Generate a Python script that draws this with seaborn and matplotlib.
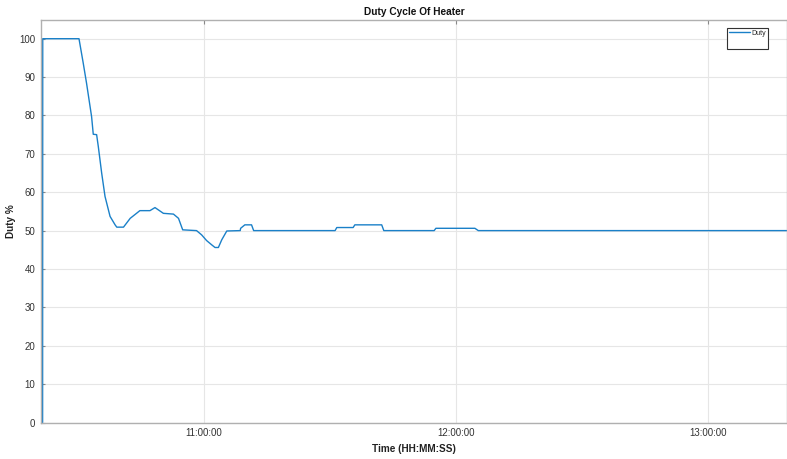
import matplotlib
matplotlib.use("Agg")
import matplotlib.pyplot as plt
import matplotlib.dates as mdates
from matplotlib.lines import Line2D
import seaborn as sns
import pandas as pd

times = ["10:21:32", "10:21:34", "10:30:12", "10:31:12", "10:32:00", "10:33:12", "10:33:36",
         "10:34:24", "10:34:48", "10:35:36", "10:36:24", "10:37:36", "10:38:48", "10:39:12",
         "10:40:48", "10:42:24", "10:43:54", "10:44:42", "10:47:06", "10:48:18", "10:49:06",
         "10:50:18", "10:52:42", "10:53:54", "10:54:54", "10:58:12", "10:59:24", "11:00:36",
         "11:01:48", "11:02:36", "11:03:24", "11:04:12", "11:05:24", "11:08:36", "11:08:42",
         "11:09:42", "11:11:18", "11:11:48", "11:31:12", "11:31:36", "11:35:30", "11:35:54",
         "11:42:18", "11:42:48", "11:54:48", "11:55:12", "12:04:30", "12:05:18", "13:18:48"]
duty = [0, 100, 100, 93.7, 88.4, 79.7, 75.1,
        75.0, 71.9, 65.0, 58.9, 53.7, 51.5, 50.9,
        50.9, 53.2, 54.5, 55.2, 55.2, 56.0, 55.4,
        54.5, 54.3, 53.2, 50.2, 50.0, 48.9, 47.4,
        46.3, 45.6, 45.6, 47.6, 49.9, 50.0, 50.6,
        51.5, 51.5, 50.0, 50.0, 50.8, 50.8, 51.5,
        51.5, 50.0, 50.0, 50.6, 50.6, 50.0, 50.0]
x_ticks = ["11:00:00", "12:00:00", "13:00:00"]
y_ticks = [0, 10, 20, 30, 40, 50, 60, 70, 80, 90, 100]

day = "2020-01-01 "
df = pd.DataFrame({"Time": pd.to_datetime([day + t for t in times]), "Duty": duty})

sns.set_theme(style="whitegrid")
plt.rcParams["font.family"] = ["Liberation Sans", "DejaVu Sans"]

fig = plt.figure(figsize=(7.87, 4.59), dpi=100)
ax = fig.add_axes([0.052, 0.0795, 0.948, 0.878])

sns.lineplot(data=df, x="Time", y="Duty", ax=ax, estimator=None, sort=False,
             color="#1a80c8", linewidth=1.0, label="Duty")

ax.set_ylim(0, 105)
ax.set_xlim(pd.Timestamp(day + "10:21:08"), pd.Timestamp(day + "13:18:50"))
ax.set_yticks(y_ticks)
ax.set_xticks(pd.to_datetime([day + t for t in x_ticks]))
ax.xaxis.set_major_formatter(mdates.DateFormatter("%H:%M:%S"))

ax.grid(True, color="#e6e6e6", linewidth=0.8)
for side in ["left", "bottom", "top", "right"]:
    ax.spines[side].set_color("#b0b0b0")
    ax.spines[side].set_linewidth(1.0)
ax.tick_params(axis="both", direction="in", length=3, width=0.8, color="#888888",
               labelsize=7, labelcolor="#333333", pad=4)
ax.tick_params(axis="x", top=True, pad=4)
ax.tick_params(axis="y", left=True)

ax.set_xlabel("Time (HH:MM:SS)", fontsize=7.2, fontweight="bold", color="#222222", labelpad=4)
ax.set_ylabel("Duty %", fontsize=7.2, fontweight="bold", color="#222222", labelpad=2)
ax.set_title("Duty Cycle Of Heater", fontsize=7.3, fontweight="bold", color="#111111", pad=3)

handles, labels = ax.get_legend_handles_labels()
handles.append(Line2D([], [], color="none"))
labels.append(" ")
leg = ax.legend(handles, labels, loc="upper right", bbox_to_anchor=(0.974, 0.98), fontsize=5,
                frameon=True, fancybox=False, shadow=False, handlelength=3,
                borderpad=0.3, handletextpad=0.2, borderaxespad=0, labelspacing=0.5)
leg.get_frame().set_edgecolor("#333333")
leg.get_frame().set_linewidth(0.8)
leg.get_frame().set_facecolor("white")
leg.get_frame().set_alpha(1)

fig.savefig("out.png", dpi=100)
